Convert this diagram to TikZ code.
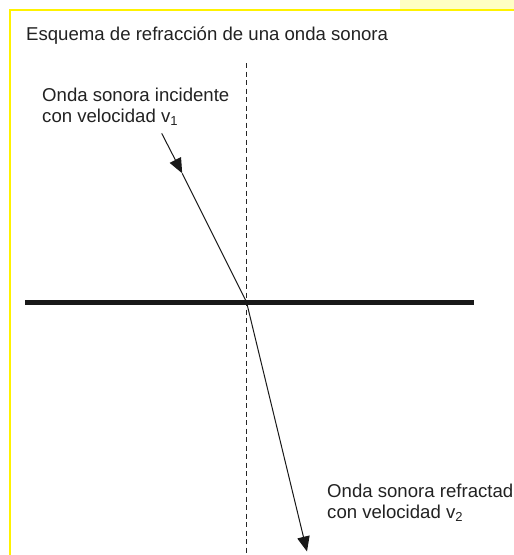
\documentclass[tikz,border=0pt]{standalone}
\usepackage{fontspec}
\setmainfont{Liberation Sans}
\usetikzlibrary{arrows.meta}
\definecolor{txt}{HTML}{222222}
\definecolor{paleyellow}{HTML}{FFFFC4}
\tikzset{
  lbl/.style={inner sep=0pt, text=txt, font=\fontsize{18.6}{21}\selectfont, align=left},
  ray/.style={line width=1pt, draw=black!90},
  tip/.style={-{Triangle[length=15pt,width=12.5pt]}},
  normal/.style={line width=1pt, dash pattern=on 5pt off 3.5pt, draw=black!85},
  interface/.style={line width=4.5pt, draw=black!90},
  frame/.style={line width=2pt, draw=yellow}
}
\begin{document}
\begin{tikzpicture}[x=1pt,y=-1pt]
\useasboundingbox (0,0) rectangle (514,555);
\fill[paleyellow] (400,0) rectangle (514,9);
\draw[frame] (10,555) -- (10,10) -- (514,10);
\node[lbl, anchor=base west] (title) at (26,40) {Esquema de refracción de una onda sonora};
% normal (dashed)
\coordinate (ntop) at (246.5,63);
\coordinate (nbot) at (246.5,555);
\draw[normal] (ntop) -- (nbot);
% interface
\coordinate (il) at (25,302.5);
\coordinate (ir) at (473.5,302.5);
\draw[interface, line cap=butt] (il) -- (ir);
% rays
\coordinate (O) at (246.5,302);
\coordinate (s1) at (161.7,133.3);
\coordinate (m1) at (182.2,173.3);
\coordinate (e2) at (307,551.5);
\draw[ray, tip] (s1) -- (m1);
\draw[ray] (m1) -- (O);
\draw[ray, tip] (O) -- (e2);
% labels
\node[lbl, anchor=north west] (inc) at (42,88) {Onda sonora incidente\\con velocidad v\textsubscript{1}};
\node[lbl, anchor=north west] (ref) at (327,484) {Onda sonora refractada\\con velocidad v\textsubscript{2}};
\end{tikzpicture}
\end{document}
